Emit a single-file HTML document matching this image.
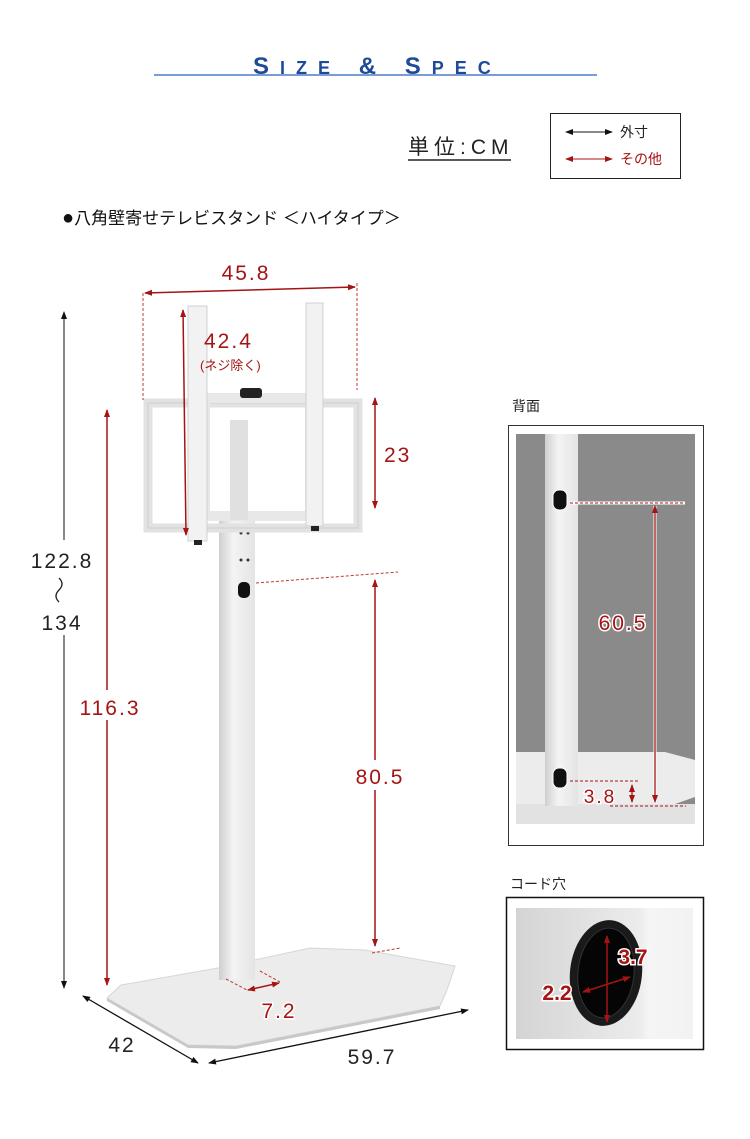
<!DOCTYPE html>
<html><head><meta charset="utf-8">
<style>
html,body{margin:0;padding:0;background:#fff;}
svg{display:block;}
text{font-family:"Liberation Sans","Noto Sans CJK JP",sans-serif;}
</style></head>
<body>
<svg width="750" height="1139" viewBox="0 0 750 1139" xmlns="http://www.w3.org/2000/svg">
<defs>
<marker id="ar" markerWidth="8" markerHeight="8" refX="7" refY="4" orient="auto-start-reverse" markerUnits="userSpaceOnUse"><path d="M0,1 L8,4 L0,7 z" fill="#a51414"/></marker>
<marker id="ab" markerWidth="8" markerHeight="8" refX="7" refY="4" orient="auto-start-reverse" markerUnits="userSpaceOnUse"><path d="M0,1 L8,4 L0,7 z" fill="#111"/></marker>
<linearGradient id="pole" x1="0" x2="1"><stop offset="0" stop-color="#cfcfcf"/><stop offset="0.4" stop-color="#f4f4f4"/><stop offset="1" stop-color="#e4e4e4"/></linearGradient>
<linearGradient id="cord" x1="0" x2="1"><stop offset="0" stop-color="#d4d4d4"/><stop offset="0.7" stop-color="#ececec"/><stop offset="0.75" stop-color="#f5f5f5"/><stop offset="1" stop-color="#f2f2f2"/></linearGradient>
</defs>

<!-- title -->
<text x="253" y="74" fill="#1f4a97" font-size="24" font-weight="bold" letter-spacing="11" font-family="Liberation Sans">S<tspan font-size="18">IZE</tspan> &amp; S<tspan font-size="18">PEC</tspan></text>
<line x1="154" y1="75" x2="597" y2="75" stroke="#4a7bc8" stroke-width="1.5"/>

<!-- unit -->
<text x="408" y="154" font-size="21" fill="#222" letter-spacing="5">単位:CM</text>
<line x1="408" y1="160" x2="511" y2="160" stroke="#222" stroke-width="1.5"/>
<rect x="550.5" y="113.5" width="130" height="65" fill="none" stroke="#222" stroke-width="1"/>
<line x1="566" y1="132" x2="612" y2="132" stroke="#111" marker-start="url(#ab)" marker-end="url(#ab)"/>
<text x="620" y="137" font-size="14" fill="#222">外寸</text>
<line x1="566" y1="159" x2="612" y2="159" stroke="#a51414" marker-start="url(#ar)" marker-end="url(#ar)"/>
<text x="620" y="164" font-size="14" fill="#a51414">その他</text>

<text x="62" y="224" font-size="17" fill="#111"><tspan font-size="20">●</tspan>八角壁寄せテレビスタンド ＜ハイタイプ＞</text>

<!-- base -->
<polygon points="107,998 121,985 218,968 310,948 365,950 455,966 447,990 440,1006 236,1046 188,1045" fill="#ececec" stroke="#d6d6d6"/>
<polygon points="107,998 188,1045 236,1046 440,1006 440,1009 236,1049 188,1048 107,1001" fill="#c8c8c8"/>
<!-- pole -->
<rect x="219" y="520" width="36" height="460" fill="url(#pole)"/>
<rect x="238" y="582" width="12" height="16" rx="5" fill="#111"/>
<circle cx="241" cy="533" r="1.5" fill="#333"/><circle cx="248" cy="533" r="1.5" fill="#333"/>
<circle cx="241" cy="560" r="1.5" fill="#333"/><circle cx="248" cy="560" r="1.5" fill="#333"/>
<!-- bracket frame -->
<rect x="148" y="403" width="210" height="125" fill="none" stroke="#e2e2e2" stroke-width="9"/>
<rect x="148" y="403" width="210" height="125" fill="none" stroke="#cfcfcf" stroke-width="1"/>
<rect x="205" y="398" width="105" height="118" fill="none" stroke="#e8e8e8" stroke-width="10"/>
<rect x="230" y="420" width="18" height="100" fill="#e0e0e0"/>
<rect x="240" y="388" width="22" height="10" rx="3" fill="#222"/>
<!-- rails -->
<rect x="188" y="306" width="19" height="235" fill="#f2f2f2" stroke="#d0d0d0"/>
<rect x="306" y="303" width="17" height="223" fill="#f2f2f2" stroke="#d0d0d0"/>
<rect x="194" y="540" width="8" height="5" fill="#222"/><rect x="311" y="526" width="8" height="5" fill="#222"/>

<!-- 45.8 -->
<line x1="143" y1="293" x2="143" y2="400" stroke="#c0392b" stroke-dasharray="3,2"/>
<line x1="357" y1="283" x2="357" y2="390" stroke="#c0392b" stroke-dasharray="3,2"/>
<line x1="145" y1="293" x2="355" y2="287" stroke="#a51414" stroke-width="1.5" marker-start="url(#ar)" marker-end="url(#ar)"/>
<text x="246" y="280" font-size="21" fill="#a51414" text-anchor="middle" letter-spacing="2">45.8</text>
<!-- 42.4 -->
<line x1="183" y1="310" x2="186" y2="535" stroke="#a51414" stroke-width="1.5" marker-start="url(#ar)" marker-end="url(#ar)"/>
<text x="204" y="348" font-size="21" fill="#a51414" letter-spacing="2">42.4</text>
<text x="200" y="370" font-size="13" fill="#a51414">(ネジ除く)</text>
<!-- 23 -->
<line x1="375" y1="398" x2="375" y2="508" stroke="#a51414" stroke-width="1.5" marker-start="url(#ar)" marker-end="url(#ar)"/>
<text x="384" y="462" font-size="21" fill="#a51414" letter-spacing="2">23</text>
<!-- 122.8 -->
<line x1="64" y1="312" x2="64" y2="988" stroke="#111" stroke-width="1" marker-start="url(#ab)" marker-end="url(#ab)"/>
<rect x="20" y="540" width="85" height="95" fill="#fff"/>
<text x="62" y="568" font-size="21" fill="#222" text-anchor="middle" letter-spacing="2">122.8</text>
<path d="M59,578 q6,6 0,12 q-6,6 0,12" fill="none" stroke="#222" stroke-width="1.3"/>
<text x="62" y="630" font-size="21" fill="#222" text-anchor="middle" letter-spacing="2">134</text>
<!-- 116.3 -->
<line x1="107" y1="410" x2="107" y2="985" stroke="#a51414" stroke-width="1.5" marker-start="url(#ar)" marker-end="url(#ar)"/>
<rect x="68" y="690" width="82" height="30" fill="#fff"/>
<text x="110" y="715" font-size="21" fill="#a51414" text-anchor="middle" letter-spacing="2">116.3</text>
<!-- 80.5 -->
<line x1="256" y1="583" x2="398" y2="572" stroke="#c0392b" stroke-dasharray="3,2"/>
<line x1="375" y1="580" x2="375" y2="946" stroke="#a51414" stroke-width="1.5" marker-start="url(#ar)" marker-end="url(#ar)"/>
<rect x="345" y="760" width="70" height="30" fill="#fff"/>
<text x="380" y="784" font-size="21" fill="#a51414" text-anchor="middle" letter-spacing="2">80.5</text>
<line x1="372" y1="953" x2="400" y2="948" stroke="#c0392b" stroke-dasharray="3,2"/>
<!-- 7.2 -->
<line x1="226" y1="979" x2="247" y2="990" stroke="#c0392b" stroke-dasharray="3,2"/>
<line x1="260" y1="971" x2="280" y2="982" stroke="#c0392b" stroke-dasharray="3,2"/>
<line x1="248" y1="990" x2="279" y2="983" stroke="#a51414" stroke-width="1.5" marker-start="url(#ar)" marker-end="url(#ar)"/>
<text x="279" y="1018" font-size="21" fill="#a51414" text-anchor="middle" stroke="#fff" stroke-width="3" paint-order="stroke" letter-spacing="2">7.2</text>
<!-- 42 / 59.7 -->
<line x1="83" y1="996" x2="198" y2="1063" stroke="#111" stroke-width="1.3" marker-start="url(#ab)" marker-end="url(#ab)"/>
<text x="122" y="1052" font-size="21" fill="#222" text-anchor="middle" letter-spacing="2">42</text>
<line x1="209" y1="1063" x2="468" y2="1010" stroke="#111" stroke-width="1.3" marker-start="url(#ab)" marker-end="url(#ab)"/>
<text x="372" y="1064" font-size="21" fill="#222" text-anchor="middle" letter-spacing="2">59.7</text>

<!-- back panel -->
<text x="512" y="411" font-size="14" fill="#222">背面</text>
<rect x="508.5" y="425.5" width="195" height="420" fill="#fff" stroke="#333"/>
<rect x="516" y="434" width="179" height="390" fill="#8a8a8a"/>
<rect x="516" y="804" width="179" height="20" fill="#e2e2e2"/>
<polygon points="516,752 665,752 695,760 695,797 675,804 516,804" fill="#ececec"/>
<rect x="545" y="434" width="33" height="372" fill="url(#pole)"/>
<rect x="553" y="490" width="14" height="20" rx="6" fill="#111" stroke="#fff"/>
<rect x="553" y="768" width="14" height="20" rx="6" fill="#111" stroke="#fff"/>
<line x1="570" y1="503" x2="685" y2="503" stroke="#fff" stroke-width="3"/>
<line x1="570" y1="503" x2="685" y2="503" stroke="#a51414" stroke-dasharray="3,2"/>
<line x1="655" y1="506" x2="655" y2="802" stroke="#fff" stroke-width="3"/>
<line x1="655" y1="506" x2="655" y2="802" stroke="#a51414" stroke-width="1.3" marker-start="url(#ar)" marker-end="url(#ar)"/>
<line x1="570" y1="781" x2="640" y2="781" stroke="#a51414" stroke-dasharray="3,2"/>
<line x1="610" y1="806" x2="686" y2="806" stroke="#a51414" stroke-dasharray="3,2"/>
<line x1="632" y1="785" x2="632" y2="802" stroke="#a51414" stroke-width="1.3" marker-start="url(#ar)" marker-end="url(#ar)"/>
<text x="623" y="630" font-size="21" fill="#a51414" text-anchor="middle" stroke="#fff" stroke-width="3" paint-order="stroke" letter-spacing="2">60.5</text>
<text x="600" y="803" font-size="19" fill="#a51414" text-anchor="middle" stroke="#fff" stroke-width="3" paint-order="stroke" letter-spacing="2">3.8</text>

<!-- cord hole -->
<text x="510" y="889" font-size="14" fill="#222">コード穴</text>
<rect x="506.5" y="897.5" width="197" height="152" fill="#fff" stroke="#111" stroke-width="1.5"/>
<rect x="516" y="908" width="177" height="131" fill="url(#cord)"/>
<ellipse cx="606" cy="973" rx="36" ry="53" transform="rotate(6 606 973)" fill="#1a1a1a"/>
<ellipse cx="606" cy="973" rx="28" ry="45" transform="rotate(6 606 973)" fill="#050505" stroke="#333"/>
<line x1="607" y1="936" x2="607" y2="1022" stroke="#a51414" stroke-width="1.5" marker-start="url(#ar)" marker-end="url(#ar)"/>
<line x1="583" y1="992" x2="630" y2="977" stroke="#a51414" stroke-width="1.5" marker-start="url(#ar)" marker-end="url(#ar)"/>
<text x="633" y="964" font-size="21" fill="#a51414" text-anchor="middle" stroke="#fff" stroke-width="3" paint-order="stroke" font-weight="bold">3.7</text>
<text x="557" y="1000" font-size="21" fill="#a51414" text-anchor="middle" stroke="#fff" stroke-width="3" paint-order="stroke" font-weight="bold">2.2</text>
</svg>
</body></html>
